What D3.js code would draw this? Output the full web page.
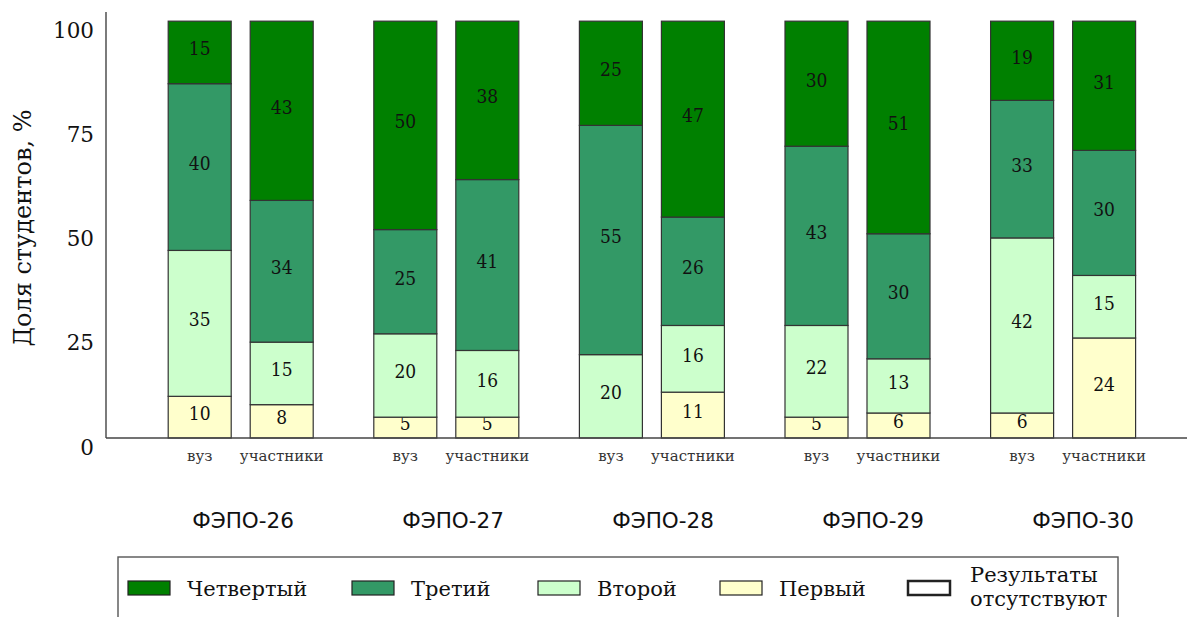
<!DOCTYPE html>
<html>
<head>
<meta charset="utf-8">
<script src="https://cdn.jsdelivr.net/npm/d3@7"></script>
<style>
  body { margin: 0; background: #fff; }
  svg { display: block; }
  .serif { font-family: "DejaVu Serif", serif; }
  .cond { font-family: "DejaVu Serif", serif; font-stretch: condensed; }
  .sans { font-family: "DejaVu Sans", sans-serif; }
</style>
</head>
<body>
<div id="chart"></div>
<script>
var W = 1187, H = 617;

var groups = ["ФЭПО-26", "ФЭПО-27", "ФЭПО-28", "ФЭПО-29", "ФЭПО-30"]
var subs = ["вуз", "участники"]

// values per bar: 26 вуз, 26 уч, 27 вуз, 27 уч ...
var first  = [10, 8, 5, 5, 0, 11, 5, 6, 6, 24]
var second = [35, 15, 20, 16, 20, 16, 22, 13, 42, 15]
var third  = [40, 34, 25, 41, 55, 26, 43, 30, 33, 30]
var fourth = [15, 43, 50, 38, 25, 47, 30, 51, 19, 31]

var seriesNames = ["Первый", "Второй", "Третий", "Четвертый"]
var seriesValues = [first, second, third, fourth]
var colors = ["#ffffcc", "#ccffcc", "#339966", "#008000"]

var yTicks = [0, 25, 50, 75, 100]

var svg = d3.select("#chart").append("svg")
    .attr("width", W)
    .attr("height", H)

var y = d3.scaleLinear().domain([0, 102.2]).range([438, 12])

var x0 = d3.scaleBand().domain(groups).range([137.7, 1165.7])
var x1 = d3.scaleBand().domain(subs).range([30.5, 175.5]).paddingInner(19 / 82)
var xLab = d3.scaleBand().domain(groups).range([138, 1188])

// build bar rows
var bars = []
groups.forEach(function(g, gi) {
    subs.forEach(function(s, si) {
        var idx = gi * 2 + si
        var row = {group: g, sub: s}
        seriesNames.forEach(function(n, k) { row[n] = seriesValues[k][idx] })
        bars.push(row)
    })
})

var stacked = d3.stack().keys(seriesNames)(bars)
var color = d3.scaleOrdinal().domain(seriesNames).range(colors)

var layer = svg.append("g")
    .selectAll("g")
    .data(stacked)
    .enter().append("g")
    .attr("fill", function(d) { return color(d.key) })

layer.selectAll("rect")
    .data(function(d) { return d.filter(function(e) { return e[1] - e[0] > 0 }) })
    .enter().append("rect")
    .attr("x", function(d) { return x0(d.data.group) + x1(d.data.sub) })
    .attr("y", function(d) { return y(d[1]) })
    .attr("width", x1.bandwidth())
    .attr("height", function(d) { return y(d[0]) - y(d[1]) })
    .attr("stroke", "#333")
    .attr("stroke-width", 1.2)

layer.selectAll("text")
    .data(function(d) { return d.filter(function(e) { return e[1] - e[0] > 0 }) })
    .enter().append("text")
    .attr("class", "cond")
    .attr("x", function(d) { return x0(d.data.group) + x1(d.data.sub) + x1.bandwidth() / 2 })
    .attr("y", function(d) { return (y(d[0]) + y(d[1])) / 2 - 4 })
    .attr("dy", "0.36em")
    .attr("text-anchor", "middle")
    .attr("fill", "#111")
    .style("font-size", "19px")
    .text(function(d) { return d[1] - d[0] })

// axes
var yAxis = d3.axisLeft(y).tickValues(yTicks).tickSize(0).tickPadding(12)
var gy = svg.append("g").attr("transform", "translate(106,0)").call(yAxis)
gy.select(".domain").remove()
gy.selectAll("text")
    .attr("class", "serif")
    .attr("dy", "0.75em")
    .attr("fill", "#111")
    .style("font-size", "21.5px")

svg.append("line")
    .attr("x1", 106).attr("x2", 106)
    .attr("y1", y.range()[1]).attr("y2", y(0))
    .attr("stroke", "#444").attr("stroke-width", 1.4)
svg.append("line")
    .attr("x1", 106).attr("x2", W)
    .attr("y1", y(0)).attr("y2", y(0))
    .attr("stroke", "#444").attr("stroke-width", 1.4)

// sub labels
svg.append("g").selectAll("text")
    .data(bars)
    .enter().append("text")
    .attr("class", "serif")
    .attr("x", function(d) { return x0(d.group) + x1(d.sub) + x1.bandwidth() / 2 })
    .attr("y", 456)
    .attr("dy", "0.36em")
    .attr("text-anchor", "middle")
    .attr("fill", "#333")
    .style("font-size", "15px")
    .text(function(d) { return d.sub })

// group labels
svg.append("g").selectAll("text")
    .data(groups)
    .enter().append("text")
    .attr("class", "sans")
    .attr("x", function(d) { return xLab(d) + xLab.bandwidth() / 2 })
    .attr("y", 520)
    .attr("dy", "0.36em")
    .attr("text-anchor", "middle")
    .attr("fill", "#111")
    .style("font-size", "21.5px")
    .text(function(d) { return d })

// y title
svg.append("text")
    .attr("class", "serif")
    .attr("transform", "translate(22,228) rotate(-90)")
    .attr("dy", "0.36em")
    .attr("text-anchor", "middle")
    .attr("fill", "#111")
    .style("font-size", "24px")
    .text("Доля студентов, %")

// legend
var legendItems = [
    {name: "Четвертый", fill: "#008000", x: 128},
    {name: "Третий", fill: "#339966", x: 352},
    {name: "Второй", fill: "#ccffcc", x: 538},
    {name: "Первый", fill: "#ffffcc", x: 720},
    {name: "Результаты|отсутствуют", fill: "#fff", x: 908}
]

svg.append("rect")
    .attr("x", 118).attr("y", 557)
    .attr("width", 1000).attr("height", 90)
    .attr("fill", "#fff")
    .attr("stroke", "#555").attr("stroke-width", 1.4)

var lg = svg.append("g").selectAll("g")
    .data(legendItems)
    .enter().append("g")
    .attr("transform", function(d) { return "translate(" + d.x + ",588)" })

lg.append("rect")
    .attr("x", 0).attr("y", -7)
    .attr("width", 42).attr("height", 14)
    .attr("fill", function(d) { return d.fill })
    .attr("stroke", "#222")
    .attr("stroke-width", function(d, i) { return i == 4 ? 2.5 : 1.2 })

lg.each(function(d) {
    var parts = d.name.split("|")
    var t = d3.select(this).append("text")
        .attr("class", "serif")
        .attr("fill", "#111")
        .style("font-size", "21px")
    if (parts.length == 1) {
        t.attr("x", 59).attr("dy", "0.36em").text(parts[0])
    } else {
        t.attr("x", 62)
        t.append("tspan").attr("x", 62).attr("y", -14).attr("dy", "0.36em").text(parts[0])
        t.append("tspan").attr("x", 62).attr("y", 10).attr("dy", "0.36em").text(parts[1])
    }
})
</script>
</body>
</html>
